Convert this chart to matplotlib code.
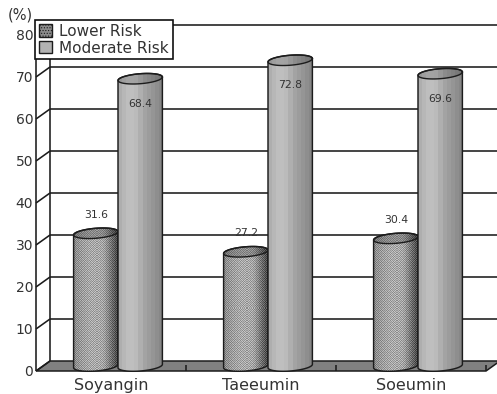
import numpy as np
import matplotlib
matplotlib.use("Agg")
import matplotlib.pyplot as plt
from matplotlib.patches import Polygon, Patch, PathPatch
from matplotlib.path import Path

categories = ["Soyangin", "Taeeumin", "Soeumin"]
lower_risk = [31.6, 27.2, 30.4]
moderate_risk = [68.4, 72.8, 69.6]
series_names = ["Lower Risk", "Moderate Risk"]
y_ticks = [0, 10, 20, 30, 40, 50, 60, 70, 80]

plt.rcParams["font.family"] = "DejaVu Sans"
plt.rcParams["hatch.linewidth"] = 0.5
W, H = 497, 394
fig = plt.figure(figsize=(W / 100, H / 100), dpi=100)
ax = fig.add_axes([36 / W, (H - 371) / H, 450 / W, 336 / H])
ax.set_xlim(-0.5, 2.5)
ax.set_ylim(0, 80)
ax.patch.set_alpha(0)
for s in ax.spines.values():
    s.set_visible(False)

PX, PY = 1 / 150, 1 / 4.2     # data units per pixel
DX, DY = 14 * PX, 10 * PY     # 3-D depth
LINE = "#1c1c1c"
kw = dict(color=LINE, lw=1.15, clip_on=False, solid_capstyle="butt")

# floor
ax.add_patch(Polygon([(-0.5, 0), (-0.5 + DX, DY), (2.5 + DX, DY), (2.5, 0)], closed=True,
                     fc="#808080", ec=LINE, lw=1.1, clip_on=False, zorder=1))
# walls and grid
ax.plot([-0.5, -0.5], [0, 80], zorder=2, **kw)
ax.plot([-0.5 + DX] * 2, [DY, 80 + DY], zorder=2, **kw)
for t in y_ticks:
    ax.plot([-0.5, -0.5 + DX], [t, t + DY], zorder=2, **kw)
    if t:
        ax.plot([-0.5 + DX, 2.5 + DX], [t + DY, t + DY], zorder=2, **kw)
for x in [0.5, 1.5, 2.5]:
    ax.plot([x, x], [0, 6 * PY], zorder=2, **kw)

def ellipse(cx, cy, hw, n=60):
    t = np.linspace(0, 2 * np.pi, n)
    return cx + hw * np.cos(t), cy + 5 * PY * np.sin(t) + 1.7 * PY * np.cos(t)

def cyl_path(cx, v, hw, n=40):
    base = DY / 2
    t1 = np.linspace(0, np.pi, n)
    top = np.c_[cx + hw * np.cos(t1), v + base + 5 * PY * np.sin(t1) + 1.7 * PY * np.cos(t1)]
    t2 = np.linspace(np.pi, 2 * np.pi, n)
    bot = np.c_[cx + hw * np.cos(t2), base + 5 * PY * np.sin(t2) + 1.7 * PY * np.cos(t2)]
    return Path(np.r_[top, bot, top[:1]], closed=False)

def shade(width, height, dither):
    u = np.linspace(0, 1, width)
    if dither:
        g = 0.50 + 0.16 * np.clip(np.sin(np.pi * (u * 0.9 + 0.08)), 0, 1) - 0.26 * np.clip(u - 0.65, 0, 1) / 0.35
        yy, xx = np.mgrid[0:height, 0:width]
        chk = np.where((xx + yy) % 2 == 0, 1, -1) * np.where((xx // 3 + yy // 3) % 2 == 0, 0.12, 0.06)
        return np.clip(g[None, :] + chk, 0, 1)
    bands = np.floor(u * 11) / 10
    g = 0.68 + 0.07 * np.sin(np.pi * np.clip(bands / 0.55, 0, 1)) - 0.15 * np.clip(bands - 0.45, 0, 1) / 0.55
    return np.tile(g, (height, 1))

def cylinder(cx, v, hw, dither, z):
    path = cyl_path(cx, v, hw)
    ax.bar(cx, v + DY / 2, width=2 * hw, color="#a0a0a0", linewidth=0, zorder=z, alpha=0)
    h_px = int(round((v + 14 * PY) / PY))
    im = ax.imshow(shade(int(round(2 * hw / PX)), h_px, dither), cmap="gray", vmin=0, vmax=1,
                   extent=(cx - hw, cx + hw, -2 * PY, v + 12 * PY), aspect="auto",
                   interpolation="nearest", zorder=z)
    im.set_clip_path(PathPatch(path, transform=ax.transData))
    ax.add_patch(PathPatch(path, fc="none", ec=LINE, lw=1.05, zorder=z + 0.2, clip_on=False))
    ex, ey = ellipse(cx, v + DY / 2, hw)
    capim = ax.imshow(shade(int(round(2 * hw / PX)), 14, dither) * (0.82 if dither else 0.86),
                      cmap="gray", vmin=0, vmax=1,
                      extent=(cx - hw, cx + hw, v + DY / 2 - 7 * PY, v + DY / 2 + 7 * PY),
                      aspect="auto", interpolation="nearest", zorder=z + 0.1)
    capim.set_clip_path(PathPatch(Path(np.c_[ex, ey]), transform=ax.transData))
    ax.plot(ex, ey, color=LINE, lw=1.0, zorder=z + 0.3, clip_on=False)

HW = 22.2 * PX
for i, (lo, mo) in enumerate(zip(lower_risk, moderate_risk)):
    c = i + DX / 2
    cylinder(c - HW, lo, HW, True, 3 + i)
    cylinder(c + HW, mo, HW, False, 3.5 + i)
    ax.annotate(f"{lo:.1f}", (c - HW, lo + DY / 2), xytext=(0, 13.5), textcoords="offset points",
                ha="center", va="center", fontsize=7.8, color="#333333", zorder=8)
    ax.annotate(f"{mo:.1f}", (c + HW, mo + DY / 2), xytext=(0, -18), textcoords="offset points",
                ha="center", va="center", fontsize=7.8, color="#333333", zorder=8)

ax.set_xlim(-0.5, 2.5)
ax.set_ylim(0, 80)
ax.set_xticks(range(3), categories)
ax.set_yticks(y_ticks)
ax.tick_params(axis="both", length=0, labelsize=10, labelcolor="#333333")
ax.tick_params(axis="x", pad=5, labelsize=11.5)
ax.tick_params(axis="y", pad=2)
ax.text(-0.5 - 3 * PX, 80 + 20 * PY, "(%)", ha="right", va="center",
        fontsize=10.5, color="#333333", clip_on=False)

handles = [Patch(fc="#8c8c8c", ec=LINE, hatch="......", lw=1),
           Patch(fc="#b2b2b2", ec=LINE, lw=1)]
leg = ax.legend(handles, series_names, loc="upper left",
                bbox_to_anchor=(-1 / 450, 1 + 15 / 336), borderaxespad=0,
                fontsize=11, frameon=True, fancybox=False, framealpha=1, edgecolor="#111111",
                handlelength=0.85, handleheight=0.85, handletextpad=0.5, labelspacing=0.12,
                borderpad=0.25, labelcolor="#333333")
leg.get_frame().set_linewidth(1.2)
leg.set_zorder(20)
fig.savefig("out.png", dpi=100)
